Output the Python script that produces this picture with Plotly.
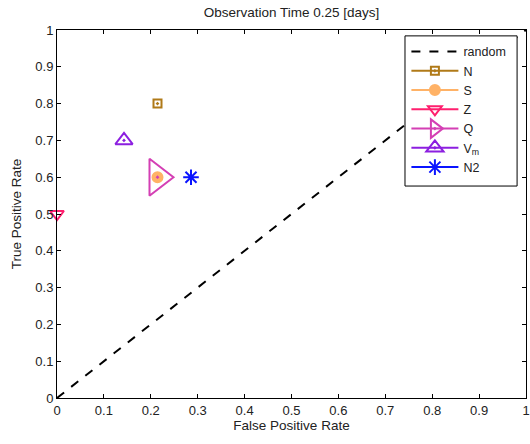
import plotly.graph_objects as go

series_names = ["N", "S", "Z", "Q", "V<sub>m</sub>", "N2"]
fpr = [3/14, 3/14, 0.0, 3/14, 1/7, 2/7]
tpr = [0.8, 0.6, 0.5, 0.6, 0.7, 0.6]
colors = ["#B07A18", "#FFB266", "#FF1F6E", "#D43FB4", "#8C1FE0", "#0A14FF"]
symbols = ["square-open-dot", "circle", "triangle-down-open", "triangle-right-open-dot", "triangle-up-open-dot", "asterisk-open"]
sizes = [8, 10, 12, 32, 15, 13]

random_x = [0, 1]
random_y = [0, 1]
ticks = [0, 0.1, 0.2, 0.3, 0.4, 0.5, 0.6, 0.7, 0.8, 0.9, 1]
tick_text = ["0", "0.1", "0.2", "0.3", "0.4", "0.5", "0.6", "0.7", "0.8", "0.9", "1"]

fig = go.Figure()
fig.add_trace(go.Scatter(x=random_x, y=random_y, mode="lines", name="random",
                         line=dict(color="black", dash="dash", width=2)))
for n, x, y, c, s, sz in zip(series_names, fpr, tpr, colors, symbols, sizes):
    fig.add_trace(go.Scatter(x=[x], y=[y], mode="lines+markers", name=n,
                             line=dict(color=c, width=2),
                             marker=dict(symbol=s, size=sz, color=c,
                                         line=dict(color=c, width=2)),
                             cliponaxis=False))

axis_common = dict(range=[0, 1], tickvals=ticks, ticktext=tick_text, ticks="inside",
                   ticklen=4, tickcolor="black", showline=True, linecolor="black",
                   linewidth=1, mirror="ticks", showgrid=False, zeroline=False,
                   automargin=False, tickfont=dict(size=13, color="#222"))
fig.update_xaxes(**axis_common, title=dict(text="False Positive Rate", font=dict(size=13.5, color="#222"), standoff=3))
fig.update_yaxes(**axis_common, title=dict(text="True Positive Rate", font=dict(size=13.5, color="#222"), standoff=10))

# legend frame (Matlab-style wider box)
fig.add_shape(type="rect", xref="paper", yref="paper", x0=0.742, x1=0.981, y0=0.576, y1=0.984,
              line=dict(color="black", width=1), fillcolor="white", layer="above")

fig.update_layout(
    width=530, height=444,
    margin=dict(l=57, r=4, t=30, b=46),
    paper_bgcolor="white", plot_bgcolor="white",
    font=dict(family="Liberation Sans, Arial, sans-serif", size=13, color="#222"),
    title=dict(text="Observation Time 0.25 [days]", xref="paper", x=0.5, xanchor="center",
               yref="container", y=0.972, yanchor="middle",
               font=dict(size=13.5, color="#222")),
    legend=dict(x=0.745, y=0.981, xanchor="left", yanchor="top", bgcolor="rgba(0,0,0,0)",
                borderwidth=0, font=dict(size=12.5),
                tracegroupgap=0, itemwidth=47),
    showlegend=True,
)

fig.write_html("out.html")
